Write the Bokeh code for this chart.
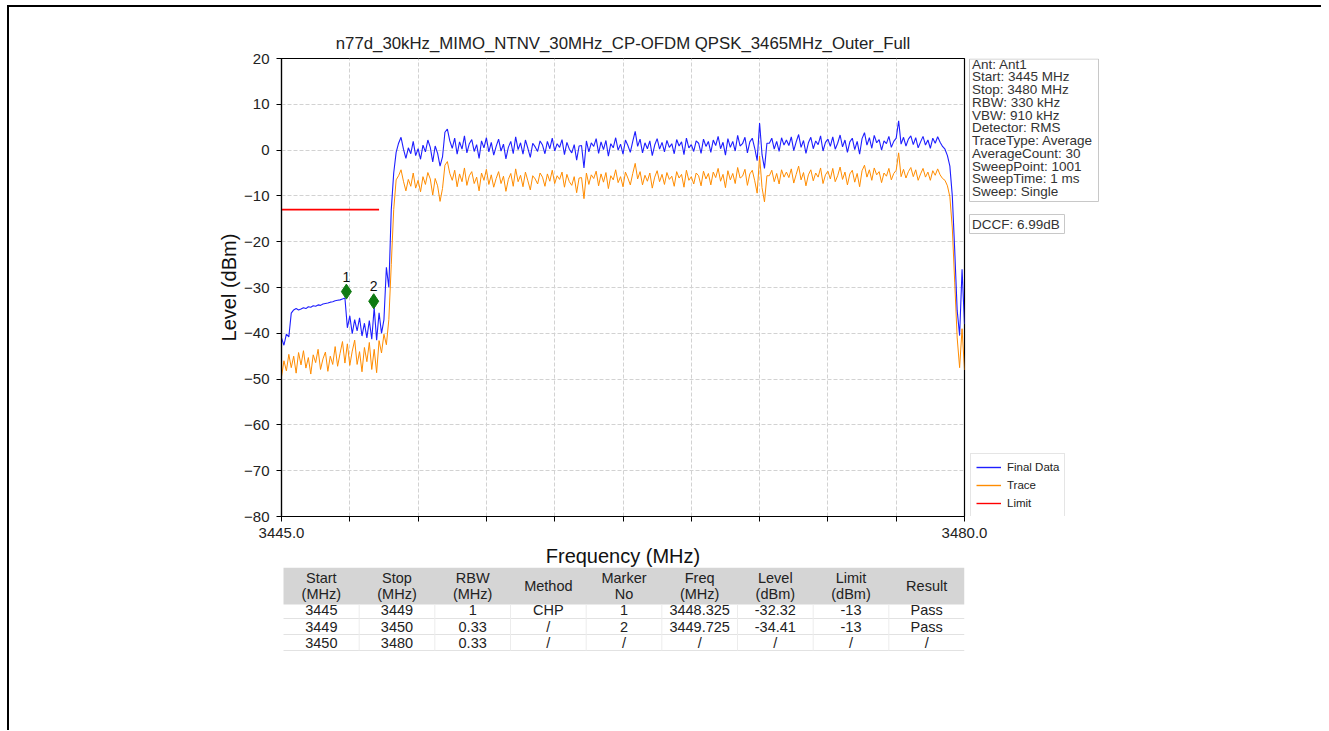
import numpy as np
from bokeh.plotting import figure
from bokeh.models import Range1d, FixedTicker, Legend, LegendItem, ColumnDataSource
from bokeh.layouts import gridplot
from bokeh.embed import file_html
from bokeh.resources import INLINE
from bokeh.core.properties import value

# ---------------- data ----------------
TITLE = "n77d_30kHz_MIMO_NTNV_30MHz_CP-OFDM QPSK_3465MHz_Outer_Full"
f_start, f_stop, f_step = 3445.0, 3480.0, 0.125

# Final Data (dBm): 3445.000 .. 3450.875
final_low = [-41.0, -42.6, -40.2, -40.8, -35.6, -34.9, -34.6, -34.9,
             -34.7, -34.4, -34.6, -34.2, -34.3, -34.0, -34.1, -33.8,
             -33.9, -33.6, -33.5, -33.4, -33.2, -33.1, -32.9, -32.8,
             -32.7, -32.5, -32.3, -38.8, -36.2, -40.1, -37.0, -39.5,
             -36.6, -40.6, -37.8, -41.0, -37.2, -41.3, -34.4, -41.5,
             -35.5, -40.0, -37.0, -25.6, -30.0, -13.0, -5.0, -0.5]
# Final Data (dBm): 3451.000 .. 3478.875
final_band = [1.5, 2.8, 0.2, -1.8, 0.5, -0.8, 1.9, -1.2, 0.3, -2.0, 1.1, -0.4, 2.2, 0.6, -2.6, 0.9,
              -0.7, -3.5, -1.5, 3.9, 4.6, 2.0, 0.4, 2.6, -0.9, 1.8, 0.2, 3.1, -0.6, 1.4, 2.3, -0.3,
              1.2, -1.8, 2.0, 0.5, 2.7, -0.4, 1.7, -1.1, 0.8, 2.4, -0.2, 1.3, -1.9, 0.6, 1.9, -0.8,
              2.9, 0.1, 1.6, -0.9, 2.2, 0.4, -1.6, 1.5, 0.7, -0.3, 2.0, 1.1, -0.8, 1.9, 0.3, 2.6,
              -0.2, 1.4, 0.6, 2.3, -1.0, 1.7, 0.2, -0.6, 1.2, -2.2, 0.9, 1.0, -3.9, 2.0, -0.4, 1.6,
              0.8, 2.5, -0.7, 1.8, 0.1, 2.1, -1.3, 1.4, 0.5, 2.7, 0.0, 1.3, -0.9, 2.2, 1.0, -0.5,
              1.9, 4.1, 0.8, 2.4, -0.6, 1.6, 0.3, 2.0, -1.2, 1.1, 2.5, 0.2, 1.7, -0.4, 2.1, 0.6,
              1.4, -0.8, 2.3, 0.9, 1.8, -1.0, 2.6, 0.5, 1.2, -0.3, 2.0, 1.5, -0.7, 2.4, 0.8, 1.9,
              -0.5, 2.2, 1.0, 3.0, 0.3, 1.7, -1.1, 2.5, 0.6, 1.9, -0.2, 3.2, 0.9, 1.4, 2.8, -0.6,
              1.8, 2.6, 0.4, -2.3, 5.9, -1.0, -4.0, 1.5, 1.5, 2.6, 0.2, 1.9, -0.3, 2.7, 1.1, 2.2,
              1.0, 2.9, -0.1, 1.8, 3.4, 0.6, 2.1, -0.7, 1.6, 2.8, 0.3, 2.0, 1.2, 3.1, -0.2, 1.7,
              2.4, 0.8, 2.9, 0.2, 1.5, 3.3, 0.7, 2.2, -0.5, 1.8, 2.6, 0.1, 1.9, -0.9, 2.5, 3.8,
              1.1, 2.7, 0.4, 3.2, 1.6, 2.3, 0.0, 2.0, 1.4, 3.0, 0.6, 1.9, 2.6, 6.4, 1.3, 2.8,
              0.9, 2.4, 3.1, 1.2, 2.7, 0.5, 1.8, 3.0, 1.1, 2.2, 0.4, 2.6, 1.5, 2.9, 1.7, 0.8]
# Final Data (dBm): 3479.000 .. 3480.000
final_edge = [0.2, -1.2, -3.5, -10.0, -22.0, -35.0, -40.5, -26.0, -38.0]

# Trace (dBm)
trace_low = [-49.5, -46.0, -48.2, -44.6, -47.5, -45.0, -48.7, -44.2,
             -46.9, -43.8, -47.6, -45.3, -48.9, -44.7, -46.4, -43.5,
             -47.9, -45.6, -44.1, -48.3, -45.0, -46.8, -42.9, -47.2,
             -44.4, -41.8, -46.5, -42.3, -47.0, -43.9, -41.5, -46.8,
             -44.0, -48.4, -43.1, -46.2, -42.0, -47.9, -43.5, -48.6,
             -41.6, -44.3, -40.2, -42.5, -37.0, -25.0, -13.0, -6.5]
trace_band = [-5.6, -4.3, -6.8, -8.9, -6.4, -7.9, -5.0, -8.3, -6.6, -9.1, -5.8, -7.5, -4.9, -6.3, -9.8, -6.2,
              -7.8, -11.2, -8.4, -3.3, -2.5, -5.1, -6.6, -4.4, -8.0, -5.2, -6.9, -3.9, -7.7, -5.6, -4.7, -7.3,
              -5.9, -8.9, -5.0, -6.6, -4.2, -7.5, -5.4, -8.1, -6.2, -4.7, -7.3, -5.7, -9.0, -6.4, -5.1, -7.9,
              -4.1, -6.9, -5.5, -8.0, -4.8, -6.7, -8.7, -5.6, -6.3, -7.4, -5.0, -5.9, -7.9, -5.2, -6.8, -4.4,
              -7.3, -5.6, -6.4, -4.8, -8.1, -5.3, -6.9, -7.7, -5.8, -9.3, -6.1, -6.0, -10.6, -5.0, -7.5, -5.4,
              -6.2, -4.6, -7.8, -5.2, -7.0, -4.9, -8.4, -5.6, -6.5, -4.3, -7.1, -5.8, -8.0, -4.8, -6.1, -7.6,
              -5.1, -2.9, -6.3, -4.7, -7.6, -5.5, -6.8, -5.0, -8.3, -5.9, -4.5, -6.9, -5.3, -7.5, -4.9, -6.4,
              -5.7, -7.9, -4.7, -6.1, -5.3, -8.1, -4.4, -6.6, -5.8, -7.4, -5.0, -5.6, -7.8, -4.6, -6.3, -5.1,
              -7.6, -4.8, -6.0, -4.0, -6.8, -5.3, -8.2, -4.5, -6.5, -5.1, -7.3, -3.8, -6.1, -5.7, -4.2, -7.7,
              -5.2, -4.4, -6.7, -9.4, -1.3, -8.2, -11.3, -5.6, -5.6, -4.4, -6.9, -5.1, -7.4, -4.3, -5.9, -4.8,
              -6.0, -4.1, -7.2, -5.3, -3.5, -6.5, -4.9, -7.8, -5.4, -4.3, -6.7, -5.0, -5.9, -3.9, -7.3, -5.4,
              -4.6, -6.3, -4.0, -6.9, -5.6, -3.7, -6.4, -4.8, -7.6, -5.2, -4.4, -7.0, -5.1, -8.0, -4.5, -3.3,
              -5.9, -4.3, -6.6, -3.9, -5.4, -4.7, -7.1, -5.0, -5.7, -4.0, -6.5, -5.1, -4.4, -0.6, -5.8, -4.2,
              -6.1, -4.7, -3.8, -5.8, -4.3, -6.6, -5.2, -4.0, -5.9, -4.8, -6.6, -4.5, -5.5, -4.1, -5.4, -6.2]
trace_edge = [-6.6, -7.8, -10.2, -17.0, -29.0, -41.0, -47.5, -39.0, -48.0]

final_data = final_low + final_band + final_edge
trace_data = trace_low + trace_band + trace_edge
freq = f_start + f_step * np.arange(len(final_data))

limit_freq = [3445.0, 3450.0]
limit_level = [-13.0, -13.0]

marker_no = ["1", "2"]
marker_freq = [3448.325, 3449.725]
marker_drawn_level = [-30.9, -33.0]

info_lines = ["Ant: Ant1", "Start: 3445 MHz", "Stop: 3480 MHz", "RBW: 330 kHz",
              "VBW: 910 kHz", "Detector: RMS", "TraceType: Average", "AverageCount: 30",
              "SweepPoint: 1001", "SweepTime: 1 ms", "Sweep: Single"]
dccf_text = "DCCF: 6.99dB"
legend_labels = ["Final Data", "Trace", "Limit"]

x_ticks = [3445.0, 3448.5, 3452.0, 3455.5, 3459.0, 3462.5, 3466.0, 3469.5, 3473.0, 3476.5, 3480.0]
y_ticks = [-80, -70, -60, -50, -40, -30, -20, -10, 0, 10, 20]

tbl_header = ["Start\n(MHz)", "Stop\n(MHz)", "RBW\n(MHz)", "Method", "Marker\nNo",
              "Freq\n(MHz)", "Level\n(dBm)", "Limit\n(dBm)", "Result"]
tbl_rows = [["3445", "3449", "1", "CHP", "1", "3448.325", "-32.32", "-13", "Pass"],
            ["3449", "3450", "0.33", "/", "2", "3449.725", "-34.41", "-13", "Pass"],
            ["3450", "3480", "0.33", "/", "/", "/", "/", "/", "/"]]

# ---------------- style / page geometry (page pixels) ----------------
FONT = "Liberation Sans"
BLUE = "#1e1eff"
ORANGE = "#ff8c00"
RED = "#ff0000"
PAGE_X0, PAGE_Y0 = 9, 7            # top-left of content (after margin + border)
FR_L, FR_R, FR_T, FR_B = 281, 964, 58, 516
RIGHT_PAD = 30                     # room for the last x tick label
MAIN_W = FR_R + RIGHT_PAD - PAGE_X0
SIDE_X0 = 968                      # where the side panel starts on the page
SIDE_SHIFT = PAGE_X0 + MAIN_W - SIDE_X0
SIDE_W = 353
BOTTOM = 54
MAIN_H = FR_B + BOTTOM - PAGE_Y0
TBL_TOP = 567
TBL_SHIFT = PAGE_Y0 + MAIN_H - TBL_TOP
TBL_H = 163

# ---------------- main chart ----------------
p = figure(width=MAIN_W, height=MAIN_H, frame_width=FR_R - FR_L, frame_height=FR_B - FR_T,
           min_border_left=FR_L - PAGE_X0, min_border_right=RIGHT_PAD,
           min_border_top=FR_T - PAGE_Y0, min_border_bottom=BOTTOM,
           x_range=Range1d(f_start, f_stop), y_range=Range1d(-80, 20),
           output_backend="svg", toolbar_location=None)
p.background_fill_color = "white"
p.border_fill_color = "white"
p.outline_line_color = "black"
p.outline_line_width = 1.2

p.title.text = TITLE
p.title.align = "center"
p.title.text_font = FONT
p.title.text_font_size = "16.8px"
p.title.text_font_style = "normal"
p.title.text_color = "#222222"
p.title.standoff = 11

for ax in (p.xaxis[0], p.yaxis[0]):
    ax.axis_line_color = "black"
    ax.axis_line_width = 1.2
    ax.major_tick_line_color = "black"
    ax.major_tick_out = 5
    ax.major_tick_in = 0
    ax.minor_tick_line_color = None
    ax.major_label_text_font = FONT
    ax.major_label_text_font_size = "15px"
    ax.major_label_text_color = "#222222"
    ax.axis_label_text_font = FONT
    ax.axis_label_text_font_size = "20px"
    ax.axis_label_text_font_style = "normal"
    ax.axis_label_text_color = "#111111"

p.xaxis.ticker = FixedTicker(ticks=x_ticks)
p.xaxis.major_label_overrides = {t: "" for t in x_ticks}
p.xaxis.major_label_overrides.update({x_ticks[0]: "3445.0", x_ticks[-1]: "3480.0"})
p.xaxis.axis_label = "Frequency (MHz)"
p.xaxis.major_label_standoff = 6
p.xaxis.axis_label_standoff = 4
p.xaxis.major_label_text_line_height = 1.0
p.xaxis.axis_label_text_line_height = 1.0

p.yaxis.ticker = FixedTicker(ticks=y_ticks)
p.yaxis.axis_label = "Level (dBm)"
p.yaxis.major_label_standoff = 7
p.yaxis.axis_label_standoff = 1

p.xgrid.ticker = FixedTicker(ticks=x_ticks)
p.ygrid.ticker = FixedTicker(ticks=y_ticks)
for g in (p.xgrid[0], p.ygrid[0]):
    g.grid_line_color = "#d2d2d2"
    g.grid_line_dash = "4 2"
    g.grid_line_width = 1

src = ColumnDataSource(dict(freq=freq, final=final_data, trace=trace_data))
p.line("freq", "trace", source=src, line_color=ORANGE, line_width=1.0)
p.line("freq", "final", source=src, line_color=BLUE, line_width=1.1)
p.line(limit_freq, limit_level, line_color=RED, line_width=1.6)

p.scatter(marker_freq, marker_drawn_level, marker="diamond", size=15,
          fill_color="#0f7a12", line_color="#0f7a12")
p.text(marker_freq, marker_drawn_level, text=marker_no, y_offset=-15,
       text_align="center", text_baseline="middle",
       text_font=value(FONT), text_font_size="14px", text_color="#111111")

# ---------------- side panel: settings box, DCCF, legend ----------------
side_frame_w = SIDE_W - SIDE_SHIFT
side = figure(width=SIDE_W, height=MAIN_H, x_range=Range1d(SIDE_X0, SIDE_X0 + side_frame_w),
              y_range=Range1d(FR_B, FR_T), x_axis_location=None, y_axis_location=None,
              min_border_left=0, min_border_right=0,
              min_border_top=FR_T - PAGE_Y0, min_border_bottom=BOTTOM,
              output_backend="svg", toolbar_location=None)
side.grid.visible = False
side.outline_line_color = None
side.background_fill_alpha = 0
side.border_fill_alpha = 0
side.styles = {"margin-left": f"-{SIDE_SHIFT}px"}

side.quad(left=[969], right=[1098], top=[58.5], bottom=[201], fill_color="white", line_color="#c8c8c8")
side.text([971.5] * len(info_lines), [63.5 + 12.75 * i for i in range(len(info_lines))], text=info_lines,
          text_align="left", text_baseline="middle", text_font=value(FONT), text_font_size="13.5px",
          text_color="#333333")
side.quad(left=[969], right=[1064], top=[214], bottom=[233], fill_color="white", line_color="#c8c8c8")
side.text([971.5], [223.5], text=[dccf_text], text_align="left", text_baseline="middle",
          text_font=value(FONT), text_font_size="13.5px", text_color="#333333")

# legend glyph renderers (their points lie outside the visible range)
ghost = ColumnDataSource(dict(x=[0.0, 1.0], y=[0.0, 0.0]))
leg_r = [side.line("x", "y", source=ghost, line_color=c, line_width=1.4) for c in (BLUE, ORANGE, RED)]
legend = Legend(items=[LegendItem(label=l, renderers=[r]) for l, r in zip(legend_labels, leg_r)],
                location=(2, -1), margin=0, padding=5, spacing=2,
                glyph_height=16, glyph_width=25, label_height=16, label_standoff=6,
                label_text_font=FONT, label_text_font_size="11.5px", label_text_color="#222222",
                border_line_color="#cccccc", background_fill_color="white", background_fill_alpha=1.0)
side.add_layout(legend, "center")

# ---------------- result table ----------------
tbl_frame_h = TBL_H - TBL_SHIFT
t = figure(width=MAIN_W, height=TBL_H, x_range=Range1d(FR_L, FR_R),
           y_range=Range1d(TBL_TOP + tbl_frame_h, TBL_TOP),
           x_axis_location=None, y_axis_location=None,
           min_border_left=FR_L - PAGE_X0, min_border_right=RIGHT_PAD,
           min_border_top=0, min_border_bottom=0, output_backend="svg", toolbar_location=None)
t.grid.visible = False
t.outline_line_color = None
t.background_fill_color = "white"
t.border_fill_alpha = 0
t.styles = {"margin-top": f"-{TBL_SHIFT}px"}

n_cols = len(tbl_header)
x0, x1 = 283.0, 964.0
cw = (x1 - x0) / n_cols
col_c = [x0 + cw * (k + 0.5) for k in range(n_cols)]
head_bottom = 604
row_y = [609.5, 626, 642]

t.quad(left=[x0], right=[x1], top=[567], bottom=[head_bottom], fill_color="#d5d5d5", line_color=None)
t.segment(x0=[x0] * 3, x1=[x1] * 3, y0=[618, 634, 650], y1=[618, 634, 650],
          line_color="#e2e2e2", line_width=1)
seps = [x0 + cw * k for k in range(1, n_cols)]
t.segment(x0=seps, x1=seps, y0=[head_bottom] * len(seps), y1=[650] * len(seps),
          line_color="#ececec", line_width=1)
t.text(col_c, [585.5] * n_cols, text=tbl_header, text_align="center", text_baseline="middle",
       text_font=value(FONT), text_font_size="14.5px", text_line_height=1.05, text_color="#222222")
for r, yy in zip(tbl_rows, row_y):
    t.text(col_c, [yy] * n_cols, text=r, text_align="center", text_baseline="middle",
           text_font=value(FONT), text_font_size="14.5px", text_color="#222222")

root = gridplot([[p, side], [t, None]], toolbar_location=None)
root.styles = {"margin-left": "7px", "margin-top": "5px",
               "border-left": "2px solid #000", "border-top": "2px solid #000"}
open("out.html", "w").write(file_html(root, INLINE))
